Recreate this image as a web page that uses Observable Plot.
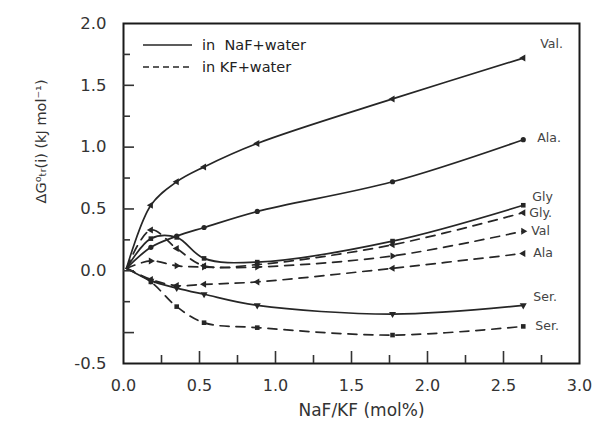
<!DOCTYPE html>
<html><head><meta charset="utf-8">
<script src="https://cdn.jsdelivr.net/npm/d3@7"></script>
<script src="https://cdn.jsdelivr.net/npm/@observablehq/plot@0.6"></script>
<style>
body{margin:0;background:#fff}
#wrap{position:relative;width:592px;height:424px}
#legend{position:absolute;left:142px;top:34px;font-family:"DejaVu Sans";font-size:14.5px;color:#222}
#legend span{white-space:pre}
</style></head><body><div id="wrap"></div>
<script>
// x values (NaF/KF mol%)
const xMol = [0.02, 0.18, 0.35, 0.53, 0.88, 1.77, 2.63];
// NaF + water (solid)
const nafVal = [0.02, 0.53, 0.72, 0.84, 1.03, 1.39, 1.72];
const nafAla = [0.02, 0.19, 0.28, 0.35, 0.48, 0.72, 1.06];
const nafGly = [0.02, 0.26, 0.27, 0.10, 0.07, 0.24, 0.53];
const nafSer = [0.02, -0.08, -0.14, -0.19, -0.28, -0.35, -0.28];
// KF + water (dashed)
const kfGly = [0.02, 0.33, 0.18, 0.04, 0.05, 0.21, 0.47];
const kfVal = [0.02, 0.08, 0.04, 0.03, 0.03, 0.12, 0.32];
const kfAla = [0.02, -0.07, -0.12, -0.11, -0.09, 0.02, 0.14];
const kfSer = [0.02, -0.09, -0.29, -0.42, -0.46, -0.52, -0.45];

const legendLabels = ["in  NaF+water", "in KF+water"];
const xTickLabels = ["0.0", "0.5", "1.0", "1.5", "2.0", "2.5", "3.0"];
const xTickValues = [0, 0.5, 1, 1.5, 2, 2.5, 3];
const yTickValues = [-0.75, 0, 0.5, 1, 1.5, 2];
const yTickLabels = ["-0.5", "0.0", "0.5", "1.0", "1.5", "2.0"];
const xTitle = "NaF/KF (mol%)";
const yTitle = "ΔG⁰ₜᵣ(i) (kJ mol⁻¹)";

const seriesDefs = [
  {key: "nafVal", label: "Val.", solvent: "NaF", values: nafVal},
  {key: "nafAla", label: "Ala.", solvent: "NaF", values: nafAla},
  {key: "nafGly", label: "Gly",  solvent: "NaF", values: nafGly},
  {key: "nafSer", label: "Ser.", solvent: "NaF", values: nafSer},
  {key: "kfGly",  label: "Gly.", solvent: "KF",  values: kfGly},
  {key: "kfVal",  label: "Val",  solvent: "KF",  values: kfVal},
  {key: "kfAla",  label: "Ala",  solvent: "KF",  values: kfAla},
  {key: "kfSer",  label: "Ser.", solvent: "KF",  values: kfSer}
];
// styling per series (marker + label offset)
const styleOf = {
  nafVal: {symbol: "triangle", rotate: -90, dx: 17, dy: -14},
  nafAla: {symbol: "circle", rotate: 0, dx: 14, dy: -2},
  nafGly: {symbol: "square", rotate: 0, dx: 9, dy: -8},
  nafSer: {symbol: "triangle", rotate: 180, dx: 10, dy: -8},
  kfGly:  {symbol: "triangle", rotate: -90, dx: 6, dy: 0},
  kfVal:  {symbol: "triangle", rotate: 90, dx: 8, dy: 0},
  kfAla:  {symbol: "triangle", rotate: -90, dx: 10, dy: 0},
  kfSer:  {symbol: "square", rotate: 0, dx: 12, dy: 0}
};

const rows = seriesDefs.flatMap(s => s.values.map((v, i) => ({key: s.key, solvent: s.solvent, label: s.label, x: xMol[i], y: v, i})));
const ink = "#262626";

const marks = [
  Plot.line(rows.filter(d => d.solvent === "NaF"), {x: "x", y: "y", z: "key", stroke: ink, strokeWidth: 1.7, curve: "catmull-rom"}),
  Plot.line(rows.filter(d => d.solvent === "KF"), {x: "x", y: "y", z: "key", stroke: ink, strokeWidth: 1.7, strokeDasharray: "9,7", curve: "catmull-rom"})
];
for (const s of seriesDefs) {
  const st = styleOf[s.key];
  const pts = rows.filter(d => d.key === s.key && d.i > 0);
  marks.push(Plot.dot(pts, {x: "x", y: "y", r: 2.6, symbol: st.symbol, rotate: st.rotate, fill: ink, stroke: "none"}));
  marks.push(Plot.text(pts.slice(-1), {x: "x", y: "y", text: "label", dx: st.dx, dy: st.dy, textAnchor: "start", fontSize: 12.5, fill: "#444"}));
}
marks.push(
  Plot.frame({stroke: "#1a1a1a", strokeWidth: 2}),
  Plot.axisX({ticks: [0.5, 1, 1.5, 2, 2.5], tickSize: -12, tickFormat: () => "", label: null, strokeWidth: 1.6}),
  Plot.axisX({ticks: [0.25, 0.75, 1.25, 1.75, 2.25, 2.75], tickSize: -8, tickFormat: () => "", label: null, strokeWidth: 1.6}),
  Plot.axisX({ticks: xTickValues, tickSize: 0, tickPadding: 16, tickFormat: d => xTickLabels[xTickValues.indexOf(d)], label: null, fontSize: 16, fill: "#333"}),
  Plot.axisY({ticks: [-0.5, 0, 0.5, 1, 1.5], tickSize: -11, tickFormat: () => "", label: null, strokeWidth: 1.6}),
  Plot.axisY({ticks: [-0.25, 0.25, 0.75, 1.25, 1.75], tickSize: -7, tickFormat: () => "", label: null, strokeWidth: 1.6}),
  Plot.axisY({ticks: yTickValues, tickSize: 0, tickPadding: 17, tickFormat: d => yTickLabels[yTickValues.indexOf(d)], label: null, fontSize: 16.5, fill: "#333"}),
  Plot.text([xTitle], {frameAnchor: "bottom", dx: 10, dy: 52, fontSize: 17, fill: "#333"}),
  Plot.text([yTitle], {frameAnchor: "left", rotate: -90, dx: -82, dy: 10, fontSize: 14.5, fill: "#333"})
);

const chart = Plot.plot({
  width: 592, height: 424,
  marginLeft: 123, marginRight: 13, marginTop: 23, marginBottom: 61,
  x: {domain: [0, 3]},
  y: {domain: [-0.75, 2]},
  style: {fontFamily: "DejaVu Sans", background: "#fff", color: "#333", overflow: "visible"},
  marks
});
const wrap = document.getElementById("wrap");
wrap.appendChild(chart);

// legend inside the plot area (top-left)
const leg = document.createElement("div");
leg.id = "legend";
leg.innerHTML =
  `<div style="display:flex;align-items:center;height:22px"><svg width="60" height="10"><line x1="1" x2="50" y1="5" y2="5" stroke="${ink}" stroke-width="1.6"/></svg><span>${legendLabels[0]}</span></div>` +
  `<div style="display:flex;align-items:center;height:22px"><svg width="60" height="10"><line x1="1" x2="50" y1="5" y2="5" stroke="${ink}" stroke-width="1.6" stroke-dasharray="6,4"/></svg><span>${legendLabels[1]}</span></div>`;
wrap.appendChild(leg);
</script></body></html>
